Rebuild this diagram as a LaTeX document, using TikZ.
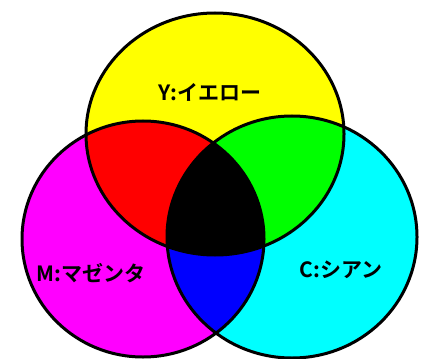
\documentclass[tikz,border=0pt]{standalone}
\usepackage{fontspec}
\newfontfamily\jpfont{Noto Sans CJK JP}[BoldFont={Noto Sans CJK JP Bold}]
\definecolor{cY}{RGB}{255,255,0}
\definecolor{cM}{RGB}{255,0,255}
\definecolor{cC}{RGB}{0,255,255}
\definecolor{cR}{RGB}{255,0,0}
\definecolor{cG}{RGB}{0,255,0}
\definecolor{cB}{RGB}{0,0,255}
\definecolor{cK}{RGB}{0,0,0}
\begin{document}
\begin{tikzpicture}[x=1pt,y=-1pt,
  outline/.style={draw=black,line width=3pt},
  lbl/.style={font=\jpfont\bfseries\fontsize{21}{21}\selectfont,inner sep=0pt,text=black}]
\useasboundingbox (0,0) rectangle (430,358);
\fill[white] (0,0) rectangle (430,358);
\def\Yell{(215,134) ellipse [x radius=129,y radius=121]}
\def\Mell{(143,239) ellipse [x radius=121,y radius=118]}
\def\Cell{(292,237) ellipse [x radius=125,y radius=121]}
% base fills
\fill[cY] \Yell;
\fill[cM] \Mell;
\fill[cC] \Cell;
% pair overlaps
\begin{scope}\clip \Yell; \fill[cR] \Mell; \end{scope}
\begin{scope}\clip \Yell; \fill[cG] \Cell; \end{scope}
\begin{scope}\clip \Mell; \fill[cB] \Cell; \end{scope}
\begin{scope}\clip \Yell; \clip \Mell; \fill[cK] \Cell; \end{scope}
% outlines
\draw[outline] \Yell;
\draw[outline] \Mell;
\draw[outline] \Cell;
\node[lbl] (ly) at (210,92) {Y:イエロー};
\node[lbl] (lm) at (91,273) {M:マゼンタ};
\node[lbl] (lc) at (341,270) {C:シアン};
\end{tikzpicture}
\end{document}
